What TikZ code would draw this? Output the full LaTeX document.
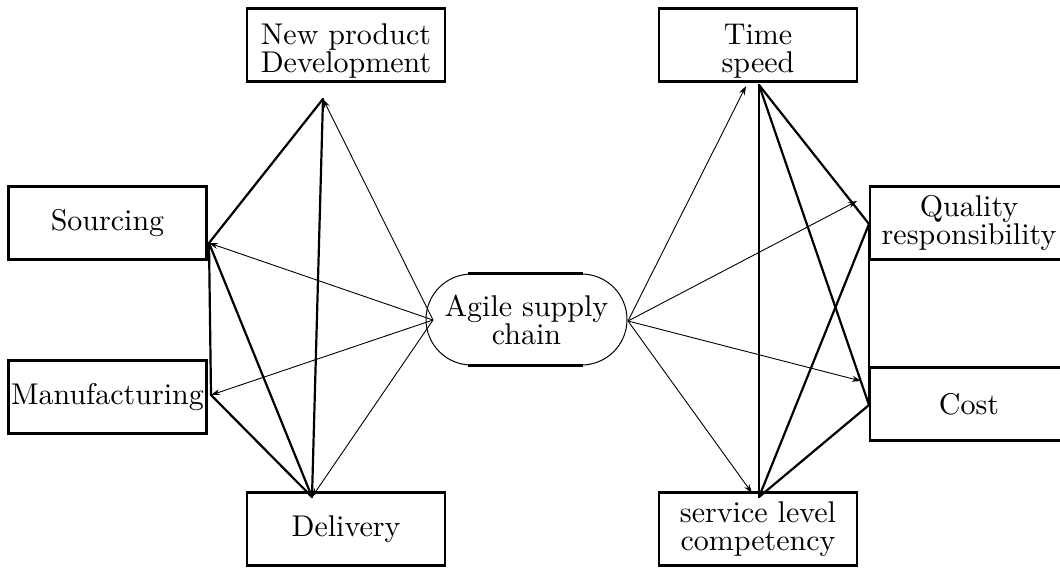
\documentclass[tikz,border=0pt]{standalone}
\usepackage{fontspec}
\setmainfont{lmroman10-regular.otf}
\usetikzlibrary{arrows.meta,shapes.misc}
\newcommand{\boxfont}{\fontsize{30}{28}\selectfont}
\begin{document}
\begin{tikzpicture}[x=1pt,y=-1pt,
  box/.style={draw, line width=2.2pt, minimum width=198pt, minimum height=73pt, inner sep=0pt, align=center, font=\boxfont},
  lowtext/.style={label={[font=\boxfont, align=center, yshift=-6pt]center:#1}},
  conn/.style={line width=2.2pt, line cap=round},
  arr/.style={line width=0.9pt, -{Stealth[length=9pt,width=6pt]}}]
\useasboundingbox (0,0) rectangle (1060,568);
% nodes
\node[box, lowtext={New product\\Development}] (npd) at (346,45) {};
\node[box] (src) at (107.5,223) {Sourcing};
\node[box] (man) at (107.5,397) {Manufacturing};
\node[box] (del) at (346,529) {Delivery};
\node[box, lowtext={Time\\speed}] (time) at (758,45) {};
\node[box] (qual) at (969,223) {Quality\\responsibility};
\node[box] (cost) at (969,404) {Cost};
\node[box] (serv) at (758,529) {service level\\competency};
\node[draw, rounded rectangle, minimum width=201pt, minimum height=91pt, inner sep=0pt, line width=1pt, align=center, font=\boxfont] (ag) at (526.5,319.5) {Agile supply\\chain};
\draw[line width=2.2pt] ([xshift=-58.5pt]ag.north) -- ([xshift=56.5pt]ag.north);
\draw[line width=2.2pt] ([xshift=-58.5pt]ag.south) -- ([xshift=56.5pt]ag.south);
% connection points
\coordinate (agW) at (433,320);
\coordinate (agE) at (628,321);
\coordinate (npdP) at (323,99);
\coordinate (srcP) at (209,243);
\coordinate (manP) at (211,395);
\coordinate (delP) at (312,497);
\coordinate (timeP) at (759,85);
\coordinate (qualP) at (869,224);
\coordinate (costP) at (869,405);
\coordinate (servP) at (759,497);
\coordinate (timeA) at (746,86);
\coordinate (qualA) at (857,201);
\coordinate (costA) at (861,381);
\coordinate (servA) at (752,493);
% thick links left
\draw[conn] (npdP) -- (srcP);
\draw[conn] (npdP) -- (delP);
\draw[conn] (srcP) -- (manP);
\draw[conn] (srcP) -- (delP);
\draw[conn] (manP) -- (delP);
% thick links right
\draw[conn] (timeP) -- (servP);
\draw[conn] (timeP) -- (qualP);
\draw[conn] (timeP) -- (costP);
\draw[conn] (qualP) -- (servP);
\draw[conn] (qualP) -- (costP);
\draw[conn] (costP) -- (servP);
% arrows from centre
\draw[arr] (agW) -- (npdP);
\draw[arr] (agW) -- (srcP);
\draw[arr] (agW) -- (manP);
\draw[arr] (agW) -- (delP);
\draw[arr] (agE) -- (timeA);
\draw[arr] (agE) -- (qualA);
\draw[arr] (agE) -- (costA);
\draw[arr] (agE) -- (servA);
\end{tikzpicture}
\end{document}
